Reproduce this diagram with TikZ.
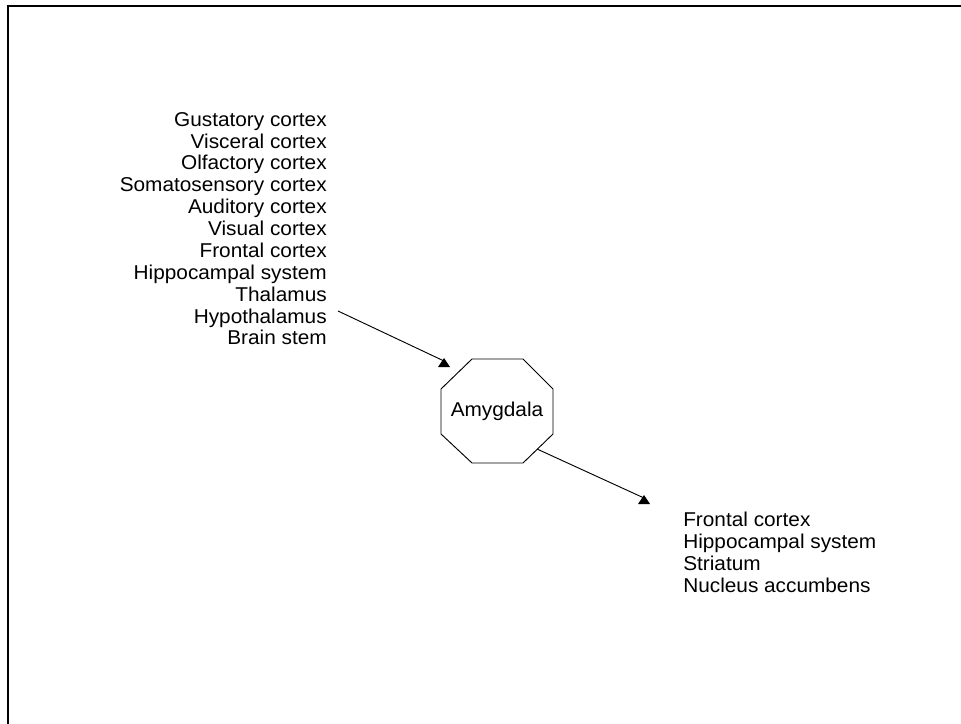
\documentclass[tikz,border=0pt]{standalone}
\usepackage{fontspec}
\setmainfont{Liberation Sans}[FakeStretch=1.04]
\begin{document}
\begin{tikzpicture}[x=0.75pt,y=-0.75pt,
  lbl/.style={inner sep=0pt,font=\fontsize{15pt}{16.4pt}\selectfont},
  octa/.style={line width=0.7pt},
  tipmark/.style={fill=black,inner sep=0pt,minimum size=0pt},
  conn/.style={line width=0.7pt},
  frame/.style={line width=1.1pt}]
\useasboundingbox (0,0) rectangle (961,724);
\draw[frame] (8,724) -- (8,6) -- (961,6);
\node[lbl,align=right,anchor=north east] (inputs) at (327,112) {Gustatory cortex\\Visceral cortex\\Olfactory cortex\\Somatosensory cortex\\Auditory cortex\\Visual cortex\\Frontal cortex\\Hippocampal system\\Thalamus\\Hypothalamus\\Brain stem};
\node[lbl,align=left,anchor=north west] (outputs) at (683,512) {Frontal cortex\\Hippocampal system\\Striatum\\Nucleus accumbens};
% octagon
\coordinate (o1) at (472,359);
\coordinate (o2) at (523,359);
\coordinate (o3) at (553,389);
\coordinate (o4) at (553,434);
\coordinate (o5) at (523,463);
\coordinate (o6) at (472,463);
\coordinate (o7) at (441,434);
\coordinate (o8) at (441,389);
\draw[octa] (o1) -- (o2) -- (o3) -- (o4) -- (o5) -- (o6) -- (o7) -- (o8) -- cycle;
\node[lbl] (amy) at (497,411) {Amygdala};
\coordinate (amyout) at (537,449);
\coordinate (hypo) at (338,311);
\coordinate (tip1) at (444,361);
\coordinate (tip2) at (644,498);
\draw[conn] (hypo) -- (tip1);
\draw[conn] (amyout) -- (tip2);
\fill[tipmark] ([shift={(-6,6)}]tip1) -- ([shift={(6,6)}]tip1) -- ([shift={(0,-3)}]tip1) -- cycle;
\fill[tipmark] ([shift={(-6,6)}]tip2) -- ([shift={(6,6)}]tip2) -- ([shift={(0,-3)}]tip2) -- cycle;
\end{tikzpicture}
\end{document}
